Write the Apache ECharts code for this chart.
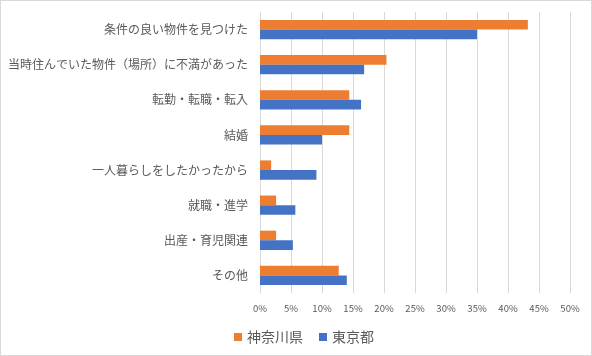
<!DOCTYPE html>
<html>
<head>
<meta charset="utf-8">
<script src="https://cdn.jsdelivr.net/npm/echarts@6/dist/echarts.min.js"></script>
<style>
html,body{margin:0;padding:0;background:#fff;}
#c{width:590px;height:354px;border:1px solid #d9d9d9;}
</style>
</head>
<body>
<div id="c"></div>
<script>
const categories = ["条件の良い物件を見つけた","当時住んでいた物件（場所）に不満があった","転勤・転職・転入","結婚","一人暮らしをしたかったから","就職・進学","出産・育児関連","その他"];
const kanagawa = [43.2, 20.4, 14.4, 14.4, 1.8, 2.6, 2.6, 12.7];
const tokyo = [35.0, 16.8, 16.3, 10.0, 9.1, 5.7, 5.3, 14.0];
const seriesNames = ["神奈川県","東京都"];

const font = '"Noto Sans CJK JP", sans-serif';
const chart = echarts.init(document.getElementById('c'));
chart.setOption({
  animation:false,
  textStyle:{fontFamily:font},
  grid:{left:259,right:21,top:11,bottom:62},
  legend:{
    data:seriesNames, left:228, top:324, itemWidth:8, itemHeight:8, itemGap:16,
    icon:'rect',
    textStyle:{fontFamily:font,fontSize:14,color:'#595959'}
  },
  xAxis:{
    type:'value', min:0, max:50, interval:5,
    axisLabel:{formatter:'{value}%', fontSize:9.5, color:'#595959', margin:11, fontFamily:font},
    splitLine:{lineStyle:{color:'#d9d9d9',width:1}},
    axisLine:{show:false}, axisTick:{show:false}
  },
  yAxis:{
    type:'category', data:categories, inverse:true,
    axisLabel:{fontSize:12, color:'#595959', margin:12, fontFamily:font},
    axisLine:{show:true,lineStyle:{color:'#d9d9d9'}}, axisTick:{show:false}
  },
  series:[
    {name:seriesNames[0], type:'bar', data:kanagawa, barGap:'0%', barCategoryGap:'45%', itemStyle:{color:'#ED7D31'}},
    {name:seriesNames[1], type:'bar', data:tokyo, barGap:'0%', barCategoryGap:'45%', itemStyle:{color:'#4472C4'}}
  ]
});
</script>
</body>
</html>
